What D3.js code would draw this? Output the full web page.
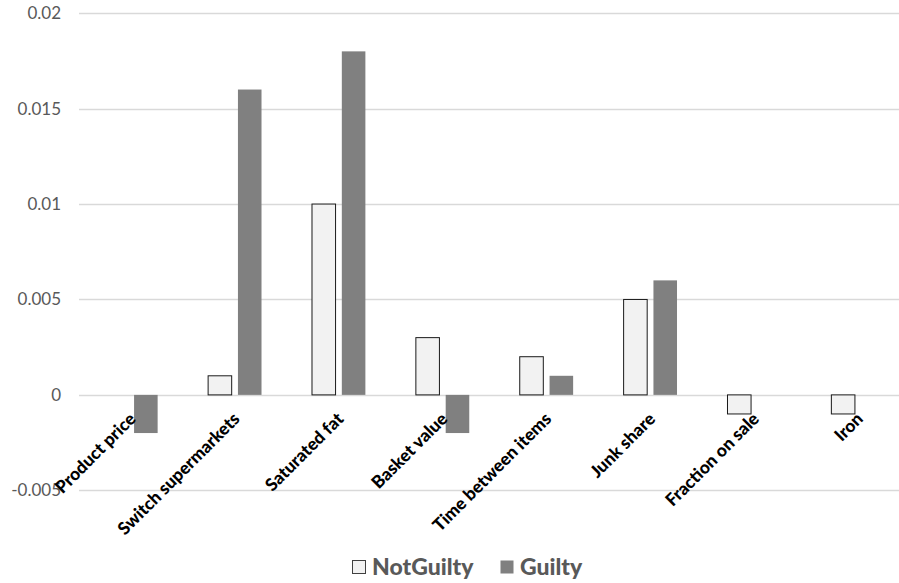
<!DOCTYPE html>
<html>
<head>
<meta charset="utf-8">
<script src="https://cdn.jsdelivr.net/npm/d3@7"></script>
<style>
  html, body { margin: 0; padding: 0; background: #ffffff; }
  svg { display: block; }
</style>
</head>
<body>
<svg id="chart" width="899" height="583"></svg>
<script>
// Categories and series values
const categories = [
  "Product price", "Switch supermarkets", "Saturated fat", "Basket value",
  "Time between items", "Junk share", "Fraction on sale", "Iron"
];
const seriesNames = ["NotGuilty", "Guilty"];
const notGuilty = [0, 0.001, 0.010, 0.003, 0.002, 0.005, -0.001, -0.001];
const guilty    = [-0.002, 0.016, 0.018, -0.002, 0.001, 0.006, 0, 0];
const yTicks = [-0.005, 0, 0.005, 0.01, 0.015, 0.02];
const yTickLabels = ["-0.005", "0", "0.005", "0.01", "0.015", "0.02"];

const seriesValues = [notGuilty, guilty];
const fills = ["#f2f2f2", "#808080"];
const strokes = ["#1a1a1a", "none"];

const svg = d3.select("#chart");
const font = "Lato, 'Open Sans', sans-serif";

const plot = { left: 79, right: 910, top: 13.2, bottom: 490.3 };

const y = d3.scaleLinear().domain([-0.005, 0.02]).range([plot.bottom, plot.top]);
const x0 = d3.scaleBand().domain(categories).range([plot.left, plot.right]).padding(0);
const x1 = d3.scaleBand().domain(seriesNames)
  .range([x0.bandwidth() * 0.243, x0.bandwidth() * 0.757])
  .paddingInner(0.21).paddingOuter(0);

// Horizontal gridlines
svg.append("g")
  .selectAll("line")
  .data(yTicks)
  .join("line")
  .attr("x1", plot.left).attr("x2", plot.right)
  .attr("y1", d => Math.round(y(d)) + 0.5).attr("y2", d => Math.round(y(d)) + 0.5)
  .attr("stroke", "#d9d9d9").attr("stroke-width", 1.3);

// Y axis labels
const yAxis = d3.axisLeft(y).tickValues(yTicks)
  .tickFormat((d, i) => yTickLabels[i]).tickSize(0).tickPadding(0);
const yg = svg.append("g").attr("transform", `translate(61,0)`).call(yAxis);
yg.select(".domain").remove();
yg.selectAll("text")
  .attr("font-family", font).attr("font-size", 17).attr("fill", "#595959");

// Bars
const groups = svg.append("g")
  .selectAll("g")
  .data(categories)
  .join("g")
  .attr("transform", d => `translate(${x0(d)},0)`);

groups.selectAll("rect")
  .data((d, i) => seriesNames.map((s, k) => ({ s, k, v: seriesValues[k][i] })))
  .join("rect")
  .filter(d => d.v !== 0)
  .attr("x", d => x1(d.s))
  .attr("width", x1.bandwidth())
  .attr("y", d => y(Math.max(0, d.v)))
  .attr("height", d => Math.abs(y(d.v) - y(0)))
  .attr("fill", d => fills[d.k])
  .attr("stroke", d => strokes[d.k])
  .attr("stroke-width", 1);

// Category labels, rotated
const xg = svg.append("g");
xg.selectAll("text")
  .data(categories)
  .join("text")
  .attr("transform", d => `translate(${x0(d) + x0.bandwidth() / 2 + 6},420) rotate(-45)`)
  .attr("text-anchor", "end")
  .attr("font-family", font).attr("font-weight", 900).attr("font-size", 17.5)
  .attr("fill", "#000000")
  .text(d => d);

// Legend
const legend = svg.append("g").attr("transform", "translate(352,575)");
const legendItems = [
  { name: seriesNames[0], x: 0 },
  { name: seriesNames[1], x: 148 }
];
legendItems.forEach((item, k) => {
  legend.append("rect")
    .attr("x", item.x + 0.5).attr("y", -14.5)
    .attr("width", 13).attr("height", 13)
    .attr("fill", fills[k])
    .attr("stroke", k === 0 ? "#404040" : "none");
  legend.append("text")
    .attr("x", item.x + 20).attr("y", 0)
    .attr("font-family", font).attr("font-weight", 900).attr("font-size", 23)
    .attr("fill", "#595959")
    .text(item.name);
});
</script>
</body>
</html>
